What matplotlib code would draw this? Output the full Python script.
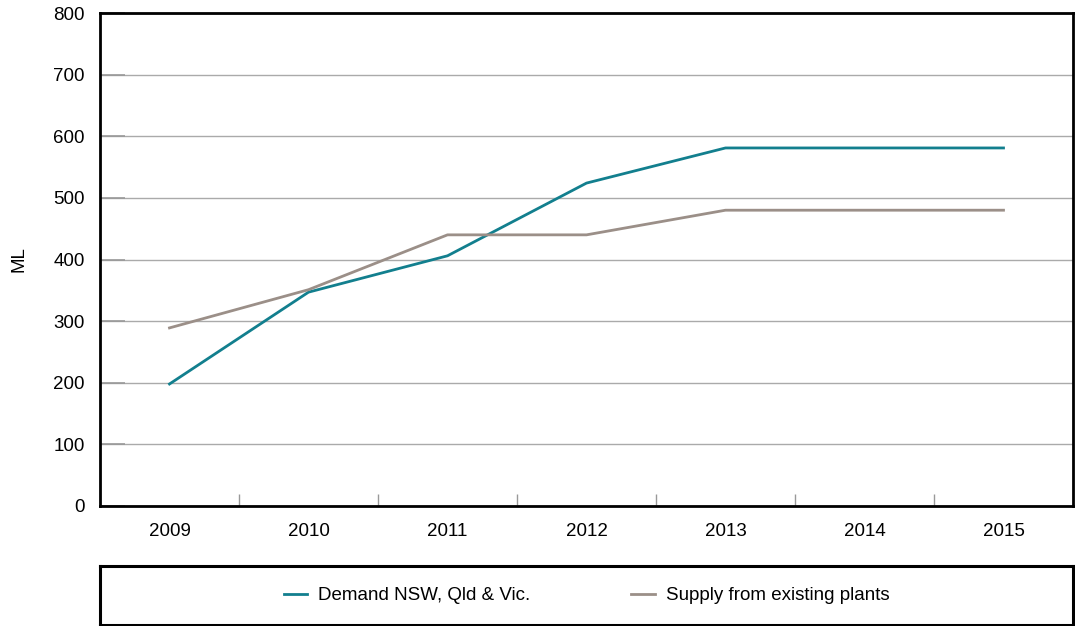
import matplotlib
matplotlib.use("Agg")
import matplotlib.pyplot as plt
import numpy as np

years = ["2009", "2010", "2011", "2012", "2013", "2014", "2015"]
demand = [198, 347, 406, 524, 581, 581, 581]
supply = [289, 351, 440, 440, 480, 480, 480]
yticks = [0, 100, 200, 300, 400, 500, 600, 700, 800]

plt.rcParams['font.family'] = ['Liberation Sans', 'DejaVu Sans']
FS = 13.5

W, H = 1075, 626
fig = plt.figure(figsize=(W / 100, H / 100), dpi=100)

def box(l, t, r, b):
    return [l / W, 1 - b / H, (r - l) / W, (b - t) / H]

ax = fig.add_axes(box(100, 13, 1073, 506))
x = np.arange(len(years))
l1, = ax.plot(x, demand, color='#127f8e', lw=2, label='Demand NSW, Qld & Vic.')
l2, = ax.plot(x, supply, color='#9b8f88', lw=2, label='Supply from existing plants')

ax.set_xlim(-0.5, len(years) - 0.5)
ax.set_ylim(0, 800)
ax.set_yticks(yticks)
ax.set_yticklabels([str(v) for v in yticks], fontsize=FS)
ax.set_xticks(x)
ax.set_xticklabels(years, fontsize=FS)
ax.tick_params(axis='x', which='major', length=0, pad=12)
ax.set_xticks(np.arange(len(years) - 1) + 0.5, minor=True)
ax.tick_params(axis='x', which='minor', direction='in', length=8.5, width=1, color='#999999')
ax.tick_params(axis='y', which='major', direction='in', length=18, width=1.2, color='#999999', pad=11)
ax.grid(axis='y', color='#aaaaaa', lw=1)
ax.set_axisbelow(True)
for s in ax.spines.values():
    s.set_linewidth(2)
    s.set_color('black')
ax.set_ylabel('ML', fontsize=FS)
ax.yaxis.set_label_coords(-0.075, 0.5)

lax = fig.add_axes(box(100, 566, 1073, 625))
lax.set_xticks([])
lax.set_yticks([])
for s in lax.spines.values():
    s.set_linewidth(2.2)
    s.set_color('black')
lax.legend(handles=[l1, l2], loc='center', ncol=2, frameon=False, fontsize=FS,
           handlelength=1.23, columnspacing=5.4, handletextpad=0.6)

fig.savefig('out.png', dpi=100)
